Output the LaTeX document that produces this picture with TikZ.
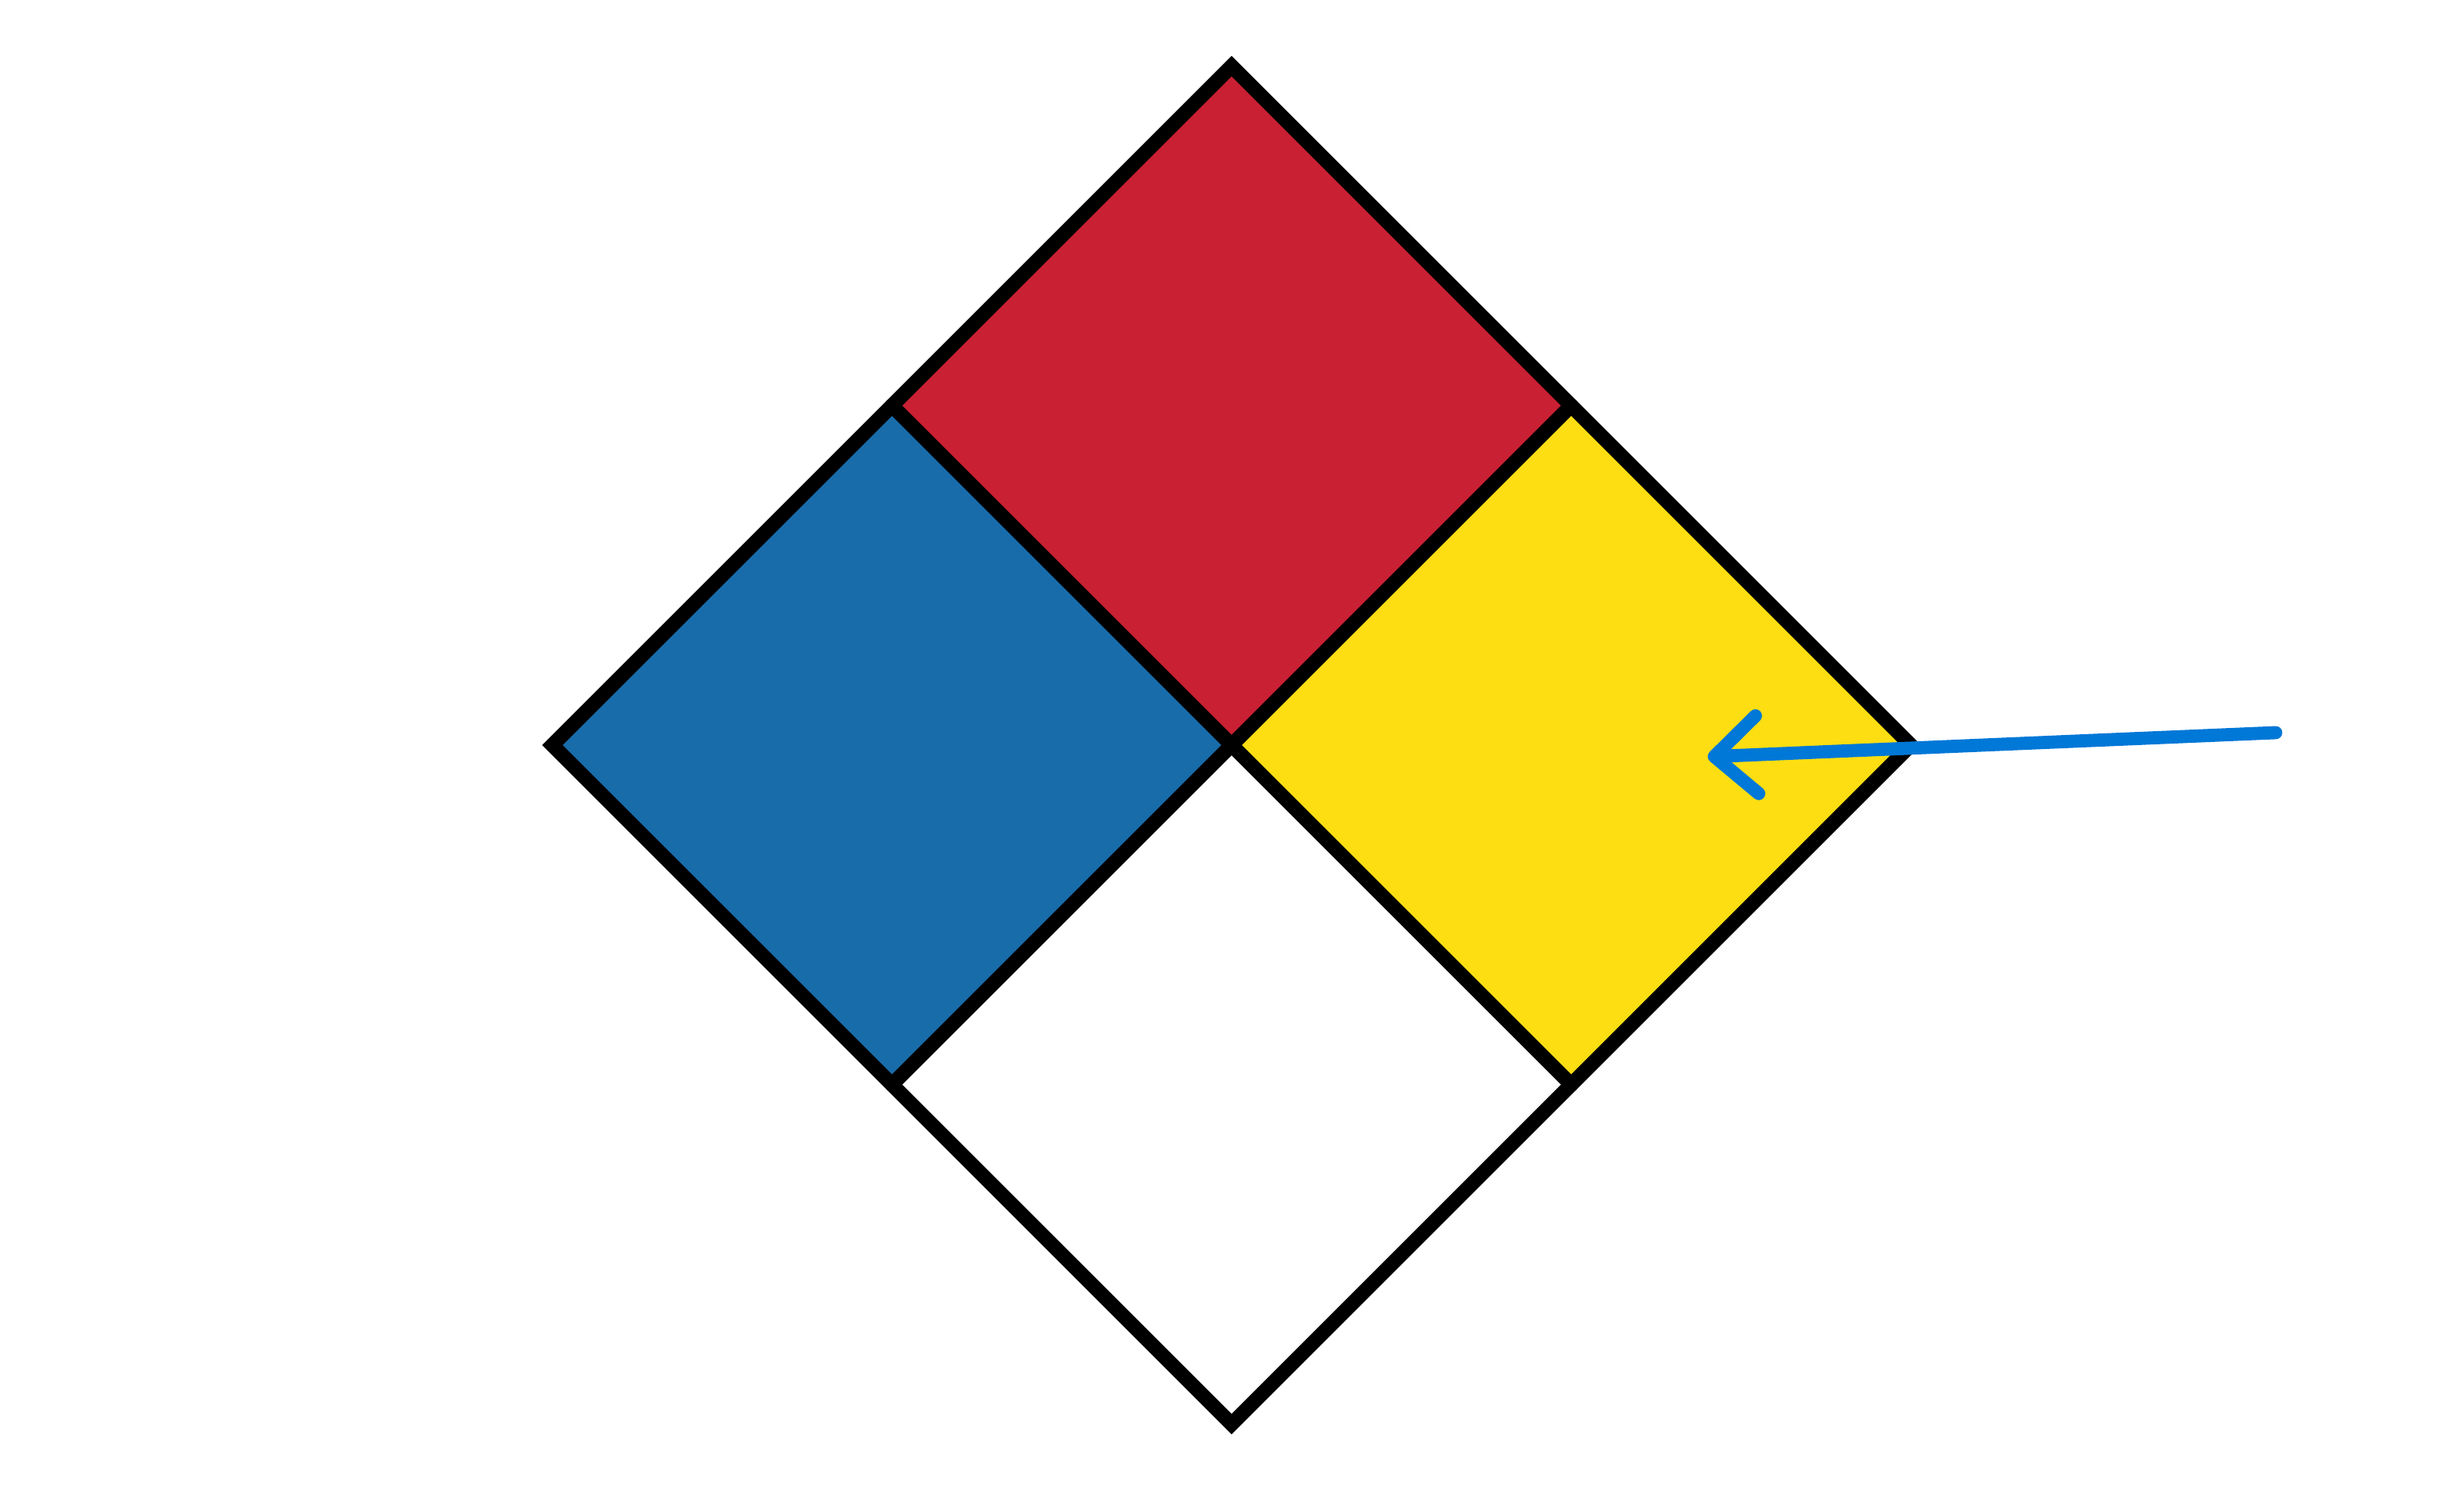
\documentclass[tikz,border=0pt]{standalone}
\usepackage{tikz}
\usetikzlibrary{arrows.meta}
\definecolor{hazardred}{RGB}{201,32,51}
\definecolor{hazardblue}{RGB}{24,108,170}
\definecolor{hazardyellow}{RGB}{252,222,18}
\definecolor{pointerblue}{RGB}{0,120,215}
\begin{document}
\begin{tikzpicture}[line cap=round,line join=round,x=1cm,y=1cm]
\tikzset{border/.style={line width=5.3pt,color=black},
  pointer/.style={line width=4.8pt,color=pointerblue,
    -{Straight Barb[length=0.55cm,width=1.0cm,line cap=round,line join=round]}}}
\useasboundingbox (0,0) rectangle (31.67,19.17);
%\clip(0,0) rectangle (31.67,19.17);
\coordinate (top) at (15.83,18.32);
\coordinate (right) at (24.56,9.59);
\coordinate (bottom) at (15.83,0.86);
\coordinate (left) at (7.10,9.59);
\coordinate (mid) at (15.83,9.59);
\coordinate (tl) at (11.465,13.955);
\coordinate (tr) at (20.195,13.955);
\coordinate (bl) at (11.465,5.225);
\coordinate (br) at (20.195,5.225);
\fill [color=hazardred] (top)-- (tr)-- (mid)-- (tl)-- cycle;
\fill [color=hazardblue] (tl)-- (mid)-- (bl)-- (left)-- cycle;
\fill [color=hazardyellow] (tr)-- (right)-- (br)-- (mid)-- cycle;
\fill [color=white] (mid)-- (br)-- (bottom)-- (bl)-- cycle;
\draw [border,line join=miter] (top)-- (right)-- (bottom)-- (left)-- cycle;
\draw [border] (tl)-- (br);
\draw [border] (tr)-- (bl);
\coordinate (tail) at (29.25,9.75);
\coordinate (tip) at (21.95,9.44);
\draw [pointer] (tail)-- (tip);
\end{tikzpicture}
\end{document}
